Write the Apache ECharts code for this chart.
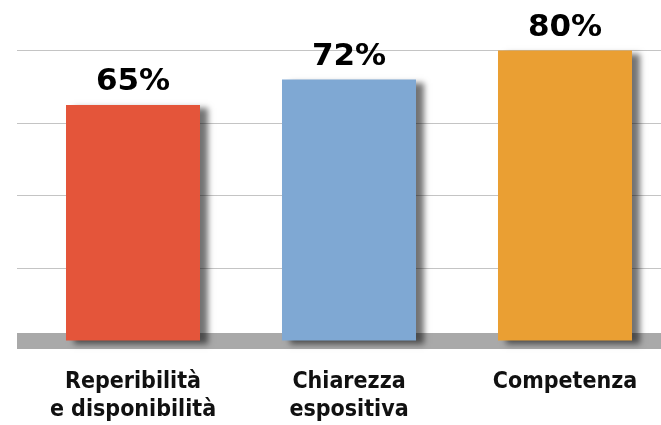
<!DOCTYPE html>
<html>
<head>
<meta charset="utf-8">
<script src="https://cdn.jsdelivr.net/npm/echarts@6/dist/echarts.min.js"></script>
<style>
  html, body { margin: 0; padding: 0; background: #fff; }
  #chart { width: 661px; height: 425px; }
</style>
</head>
<body>
<div id="chart"></div>
<script>
// dati
var categories = ['Reperibilità\ne disponibilità', 'Chiarezza\nespositiva', 'Competenza'];
var values = [65, 72, 80];
var yTicks = [0, 20, 40, 60, 80];

var barColors = ['#E4553A', '#7FA8D3', '#EA9F33'];

var chart = echarts.init(document.getElementById('chart'), null, { renderer: 'canvas' });

var yAxisBase = {
    type: 'value',
    min: yTicks[0],
    max: yTicks[yTicks.length - 1],
    interval: yTicks[1] - yTicks[0],
    axisLabel: { show: false },
    axisTick: { show: false },
    axisLine: { show: false }
};

chart.setOption({
    animation: false,
    grid: [
        // sfondo: griglia a tutta larghezza + base grigia
        { left: 17, right: 0, top: 50.5, bottom: 84.5 },
        // barre (la terza categoria esce un po' dal bordo destro)
        { left: 25, width: 648, top: 50.5, bottom: 84.5, outerBoundsMode: 'none' }
    ],
    xAxis: [
        {
            gridIndex: 0,
            type: 'category',
            data: [''],
            axisTick: { show: false },
            axisLabel: { show: false },
            axisLine: { lineStyle: { color: '#A9A9A9', width: 16, cap: 'butt' } }
        },
        {
            gridIndex: 1,
            type: 'category',
            data: categories,
            axisTick: { show: false },
            axisLine: { show: false },
            axisLabel: {
                interval: 0,
                margin: 28,
                color: '#111',
                fontFamily: '"Liberation Sans Narrow", "DejaVu Sans Condensed", sans-serif',
                fontWeight: 'bold',
                fontSize: 23,
                lineHeight: 28
            }
        }
    ],
    yAxis: [
        Object.assign({ gridIndex: 0, splitLine: { lineStyle: { color: '#C4C4C4', width: 1 } } }, yAxisBase),
        Object.assign({ gridIndex: 1, splitLine: { show: false } }, yAxisBase)
    ],
    series: [{
        type: 'bar',
        xAxisIndex: 1,
        yAxisIndex: 1,
        barWidth: 134,
        data: values.map(function (v, i) {
            return { value: v, itemStyle: { color: barColors[i] } };
        }),
        itemStyle: {
            shadowColor: 'rgba(0,0,0,0.55)',
            shadowBlur: 6,
            shadowOffsetX: 8,
            shadowOffsetY: 3
        },
        label: {
            show: true,
            position: 'top',
            distance: 7,
            formatter: '{c}%',
            color: '#000',
            fontFamily: '"DejaVu Sans", sans-serif',
            fontWeight: 900,
            fontSize: 31
        }
    }]
});
</script>
</body>
</html>
